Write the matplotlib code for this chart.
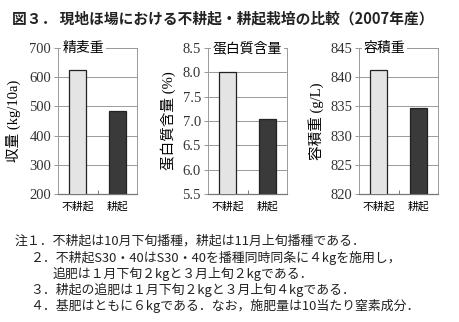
import matplotlib
matplotlib.use('Agg')
import matplotlib.pyplot as plt
import numpy as np

plt.rcParams['font.family'] = ['Liberation Serif', 'Noto Sans CJK JP']

categories = ['不耕起', '耕起']
yield_vals = [625, 485]
protein_vals = [8.0, 7.05]
density_vals = [841.3, 834.8]

panels = [
    dict(vals=yield_vals, title='精麦重', ylabel='収量 (kg/10a)',
         ylim=(200, 700), ticks=[200, 300, 400, 500, 600, 700], fmt='%d',
         left=58, lab_x=-0.47),
    dict(vals=protein_vals, title='蛋白質含量', ylabel='蛋白質含量 (%)',
         ylim=(5.5, 8.5), ticks=[5.5, 6.0, 6.5, 7.0, 7.5, 8.0, 8.5], fmt='%.1f',
         left=208, lab_x=-0.41),
    dict(vals=density_vals, title='容積重', ylabel='容積重 (g/L)',
         ylim=(820, 845), ticks=[820, 825, 830, 835, 840, 845], fmt='%d',
         left=359, lab_x=-0.44),
]

W, H = 459, 322
fig = plt.figure(figsize=(W / 100, H / 100), dpi=100)
fig.patch.set_facecolor('white')

fig.text(12 / W, 1 - 18 / H, '図３． 現地ほ場における不耕起・耕起栽培の比較（2007年産）',
         family=['Noto Sans CJK JP'], fontsize=10.6, fontweight='bold',
         va='center', ha='left', color='#222222')

serif = ['Liberation Serif', 'Noto Sans CJK JP']
bar_colors = ['#e4e4e4', '#3a3a3a']
for p in panels:
    ax = fig.add_axes([p['left'] / W, 1 - 194 / H, 79 / W, 146 / H])
    x = np.arange(len(categories))
    ax.bar(x, p['vals'], width=0.42, color=bar_colors, edgecolor='#222222',
           linewidth=0.9, zorder=3)
    ax.set_ylim(*p['ylim'])
    ax.set_xlim(-0.5, 1.5)
    ax.set_yticks(p['ticks'])
    ax.set_yticklabels([p['fmt'] % t for t in p['ticks']])
    ax.set_xticks(x)
    ax.set_xticklabels(categories, family=['Noto Sans CJK JP'], fontsize=7.8)
    ax.tick_params(axis='x', length=0, pad=5)
    ax.tick_params(axis='y', length=3, width=0.6, color='#888888', pad=2)
    for lab in ax.get_yticklabels():
        lab.set_fontfamily(serif)
        lab.set_fontsize(10.5)
        lab.set_color('#333333')
    ax.set_xticks([0.5], minor=True)
    ax.tick_params(axis='x', which='minor', direction='in', length=3,
                   width=0.6, color='#666666')
    ax.grid(axis='y', color='#9a9a9a', linewidth=0.7, zorder=0)
    for side in ['top', 'right', 'left']:
        ax.spines[side].set_color('#9a9a9a')
        ax.spines[side].set_linewidth(0.7)
    ax.spines['bottom'].set_color('#777777')
    ax.spines['bottom'].set_linewidth(0.9)
    ax.set_ylabel(p['ylabel'], family=serif, fontsize=10.5)
    ax.yaxis.set_label_coords(p['lab_x'], 0.5)
    ax.text(0.06, 1.0, p['title'], transform=ax.transAxes, va='center',
            ha='left', family=['Noto Sans CJK JP'], fontsize=10, zorder=5,
            bbox=dict(facecolor='white', edgecolor='none', pad=1))

notes = [
    (15, 241, '注１．不耕起は10月下旬播種，耕起は11月上旬播種である．'),
    (30, 258, '２．不耕起S30・40はS30・40を播種同時同条に４kgを施用し，'),
    (53, 274, '追肥は１月下旬２kgと３月上旬２kgである．'),
    (30, 290, '３．耕起の追肥は１月下旬２kgと３月上旬４kgである．'),
    (30, 306, '４．基肥はともに６kgである．なお，施肥量は10当たり窒素成分．'),
]
for nx, ny, txt in notes:
    fig.text(nx / W, 1 - ny / H, txt, family=['Noto Sans CJK JP'],
             fontsize=9.3, va='center', ha='left', color='#222222')

fig.savefig('out.png', dpi=100)
